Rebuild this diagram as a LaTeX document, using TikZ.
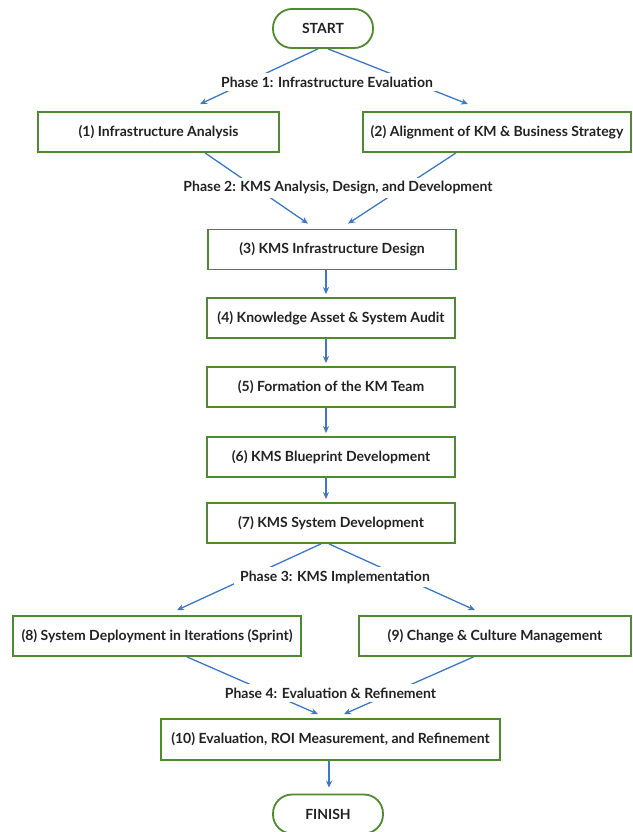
\documentclass[tikz,border=0pt]{standalone}
\usepackage{fontspec}
\setmainfont{Lato}
\usetikzlibrary{arrows.meta}
\definecolor{boxgreen}{HTML}{4E8A2E}
\definecolor{arrblue}{HTML}{3C78C8}
\definecolor{txt}{HTML}{222222}
\begin{document}
\begin{tikzpicture}[x=1pt,y=-1pt,
  every node/.style={font=\fontsize{14}{16}\selectfont\bfseries, text=txt},
  stepbox/.style={draw=boxgreen, line width=1.8pt, fill=white, minimum height=40pt, inner sep=0pt},
  term/.style={draw=boxgreen, line width=1.8pt, fill=white, rounded corners=19pt, minimum height=39pt, inner sep=0pt},
  phase/.style={fill=white, inner xsep=6pt, inner ysep=4pt},
  arr/.style={draw=arrblue, line width=1.3pt, -{Stealth[length=7pt,width=6pt]}}
]
\useasboundingbox (0,0) rectangle (632,832);
\fill[white] (0,0) rectangle (632,832);

% nodes
\node[term, minimum width=100pt] (start) at (323,28.5) {START};
\node[stepbox, minimum width=241pt] (b1) at (158.5,132) {(1) Infrastructure Analysis};
\node[stepbox, minimum width=268pt] (b2) at (497,132) {(2) Alignment of KM \& Business Strategy};
\node[stepbox, minimum width=248pt] (b3) at (332,249.5) {(3) KMS Infrastructure Design};
\node[stepbox, minimum width=248pt] (b4) at (331,318) {(4) Knowledge Asset \& System Audit};
\node[stepbox, minimum width=248pt] (b5) at (331,387) {(5) Formation of the KM Team};
\node[stepbox, minimum width=248pt] (b6) at (331,457) {(6) KMS Blueprint Development};
\node[stepbox, minimum width=248pt] (b7) at (331,523) {(7) KMS System Development};
\node[stepbox, minimum width=288pt] (b8) at (157,636) {(8) System Deployment in Iterations (Sprint)};
\node[stepbox, minimum width=272pt] (b9) at (495,636) {(9) Change \& Culture Management};
\node[stepbox, minimum width=339pt, minimum height=41pt] (b10) at (330.5,739.5) {(10) Evaluation, ROI Measurement, and Refinement};
\node[term, minimum width=110pt] (finish) at (328,814) {FINISH};

% connectors (drawn first, labels on top)
\coordinate (s1) at ([xshift=-5pt]start.south);
\coordinate (s2) at ([xshift=5pt]start.south);
\draw[arr] (s1) -- ([xshift=41.5pt,yshift=7pt]b1.north);
\draw[arr] (s2) -- ([xshift=-29pt,yshift=7pt]b2.north);
\draw[arr] ([xshift=46.5pt]b1.south) -- ([xshift=-24pt,yshift=5pt]b3.north);
\draw[arr] ([xshift=-41pt]b2.south) -- ([xshift=16pt,yshift=5pt]b3.north);
\draw[arr] ([xshift=-6pt]b3.south) -- ([xshift=-5pt,yshift=3pt]b4.north);
\draw[arr] ([xshift=-5pt]b4.south) -- ([xshift=-5pt,yshift=3pt]b5.north);
\draw[arr] ([xshift=-5pt]b5.south) -- ([xshift=-5pt,yshift=3pt]b6.north);
\draw[arr] ([xshift=-5pt]b6.south) -- ([xshift=-5pt,yshift=3pt]b7.north);
\draw[arr] ([xshift=-10pt]b7.south) -- ([xshift=20pt,yshift=5pt]b8.north);
\draw[arr] ([xshift=-2pt]b7.south) -- ([xshift=-20pt,yshift=5pt]b9.north);
\draw[arr] ([xshift=30pt]b8.south) -- ([xshift=-12.5pt,yshift=4pt]b10.north);
\draw[arr] ([xshift=-21.5pt]b9.south) -- ([xshift=13.5pt,yshift=4pt]b10.north);
\draw[arr] ([xshift=-1.5pt]b10.south) -- ([xshift=1pt,yshift=6pt]finish.north);

% phase labels
\node[phase] (p1) at (327,82) {Phase 1: Infrastructure Evaluation};
\node[phase] (p2) at (338,188) {Phase 2: KMS Analysis, Design, and Development};
\node[phase] (p3) at (335,577) {Phase 3: KMS Implementation};
\node[phase] (p4) at (330.5,693) {Phase 4: Evaluation \& Refinement};
\end{tikzpicture}
\end{document}
